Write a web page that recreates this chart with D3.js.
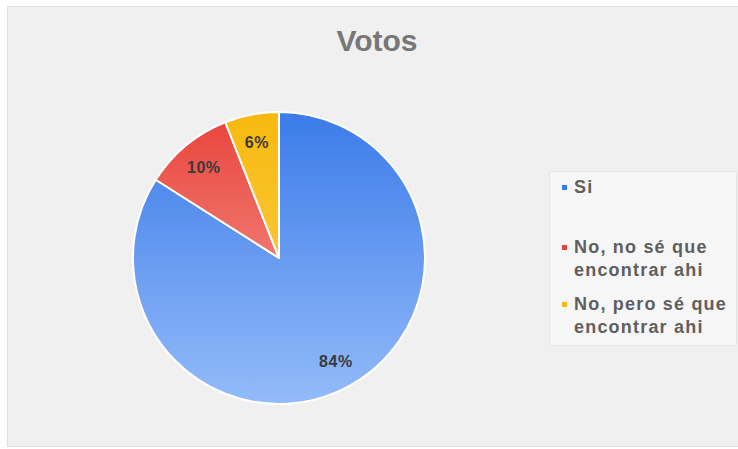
<!DOCTYPE html>
<html>
<head>
<meta charset="utf-8">
<script src="https://cdn.jsdelivr.net/npm/d3@7"></script>
<style>
  html, body { margin: 0; padding: 0; background: #ffffff; }
  svg { display: block; font-family: Arial, "Liberation Sans", sans-serif; }
</style>
</head>
<body>
<svg id="chart" width="738" height="449"></svg>
<script>
// Poll results
const title = "Votos";
const categories = ["Si", "No, no sé que encontrar ahi", "No, pero sé que encontrar ahi"];
const legendLines = [["Si"], ["No, no sé que", "encontrar ahi"], ["No, pero sé que", "encontrar ahi"]];
const values = [84, 10, 6];
const colorsTop = ["#3b7be9", "#e8433a", "#f7b90e"];
const colorsBottom = ["#94bbf9", "#f8aaa4", "#fdd35a"];

const svg = d3.select("#chart");
const W = 738, H = 449;

// panel
svg.append("rect")
  .attr("x", 7.5).attr("y", 6.5)
  .attr("width", W - 7).attr("height", 440)
  .attr("fill", "#f0f0f0")
  .attr("stroke", "#dedede").attr("stroke-width", 1);

// title
svg.append("text")
  .attr("x", 377).attr("y", 51)
  .attr("text-anchor", "middle")
  .attr("font-size", 30).attr("font-weight", "bold")
  .attr("fill", "#777777")
  .text(title);

// pie
const cx = 279, cy = 258, R = 146;
const pie = d3.pie().sort(null).value(d => d);
const arcs = pie(values);
const arc = d3.arc().innerRadius(0).outerRadius(R);
const labelArc = d3.arc().innerRadius(118).outerRadius(118);

// vertical gradients, in the pie group's own coordinates
const defs = svg.append("defs");
categories.forEach((c, i) => {
  const g = defs.append("linearGradient")
    .attr("id", "grad" + i)
    .attr("gradientUnits", "userSpaceOnUse")
    .attr("x1", 0).attr("y1", -R)
    .attr("x2", 0).attr("y2", R);
  g.append("stop").attr("offset", "0%").attr("stop-color", colorsTop[i]);
  g.append("stop").attr("offset", "100%").attr("stop-color", colorsBottom[i]);
});

const gPie = svg.append("g").attr("transform", `translate(${cx},${cy})`);
gPie.selectAll("path")
  .data(arcs)
  .join("path")
  .attr("d", arc)
  .attr("fill", (d, i) => `url(#grad${i})`)
  .attr("stroke", "#ffffff")
  .attr("stroke-width", 2)
  .attr("stroke-linejoin", "round");

const total = d3.sum(values);
gPie.selectAll("text")
  .data(arcs)
  .join("text")
  .attr("transform", d => `translate(${labelArc.centroid(d)})`)
  .attr("text-anchor", "middle")
  .attr("dy", "0.35em")
  .attr("font-size", 16).attr("font-weight", "bold")
  .attr("letter-spacing", 0.6)
  .attr("fill", "#3a3a3a")
  .text(d => Math.round(d.data / total * 100) + "%");

// legend
const legend = svg.append("g");
legend.append("rect")
  .attr("x", 549.5).attr("y", 171.5)
  .attr("width", 187).attr("height", 174)
  .attr("fill", "#f6f6f6")
  .attr("stroke", "#e6e6e6").attr("stroke-width", 1);

const baselines = [[193], [253, 276], [310, 333]];
legendLines.forEach((lines, i) => {
  legend.append("rect")
    .attr("x", 562).attr("y", baselines[i][0] - 8)
    .attr("width", 5).attr("height", 5)
    .attr("fill", colorsTop[i]);
  lines.forEach((t, j) => {
    legend.append("text")
      .attr("x", 574).attr("y", baselines[i][j])
      .attr("font-size", 18).attr("font-weight", "bold")
      .attr("letter-spacing", 1.2)
      .attr("fill", "#5f5f5f")
      .text(t);
  });
});
</script>
</body>
</html>
